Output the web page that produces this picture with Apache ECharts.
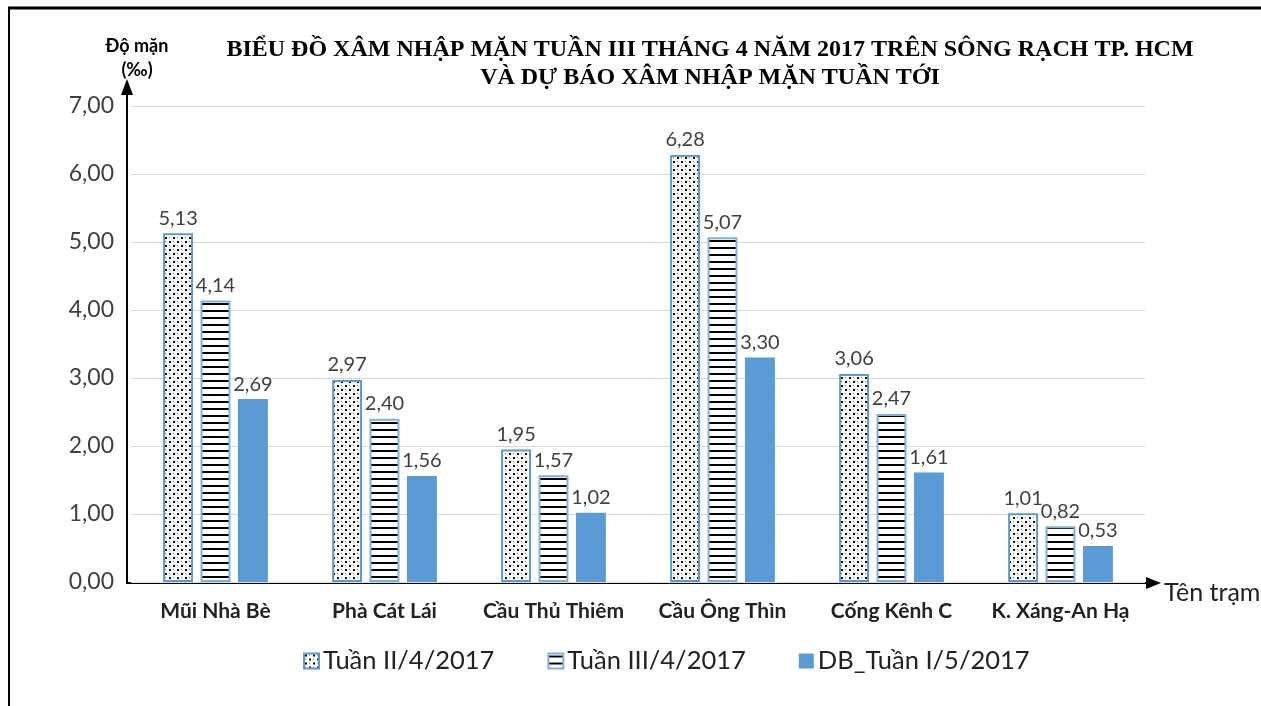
<!DOCTYPE html>
<html><head><meta charset="utf-8">
<script src="https://cdn.jsdelivr.net/npm/echarts@6/dist/echarts.min.js"></script>
<style>html,body{margin:0;padding:0;background:#fff}#c{width:1261px;height:706px}</style>
</head><body><div id="c"></div>
<script>
const categories = ['Mũi Nhà Bè','Phà Cát Lái','Cầu Thủ Thiêm','Cầu Ông Thìn','Cống Kênh C','K. Xáng-An Hạ'];
const seriesNames = ['Tuần II/4/2017','Tuần III/4/2017','DB_Tuần I/5/2017'];
const week2 = [5.13, 2.97, 1.95, 6.28, 3.06, 1.01];
const week3 = [4.14, 2.40, 1.57, 5.07, 2.47, 0.82];
const forecast = [2.69, 1.56, 1.02, 3.30, 1.61, 0.53];
const yTicks = [0,1,2,3,4,5,6,7];

function dotPattern(){
  const c=document.createElement('canvas');c.width=8;c.height=8;
  const g=c.getContext('2d');g.fillStyle='#fff';g.fillRect(0,0,8,8);
  g.fillStyle='#000';
  g.fillRect(1,1,2,2);g.fillRect(5,5,2,2);
  g.fillStyle='#666';g.fillRect(5,1,1,1);g.fillRect(1,5,1,1);
  return c;
}
function linePattern(){
  const c=document.createElement('canvas');c.width=4;c.height=7;
  const g=c.getContext('2d');g.fillStyle='#fff';g.fillRect(0,0,4,7);
  g.fillStyle='#000';g.fillRect(0,2,4,2);
  return c;
}
const FONT='Lato';
const fmt=v=>v.toFixed(2).replace('.',',');
const chart=echarts.init(document.getElementById('c'));
const lbl={show:true,position:'top',distance:5,fontFamily:FONT,fontSize:20,color:'#404040',formatter:p=>fmt(p.value)};
chart.setOption({
  animation:false,
  title:{text:'BIỂU ĐỒ XÂM NHẬP MẶN TUẦN III THÁNG 4 NĂM 2017 TRÊN SÔNG RẠCH TP. HCM\nVÀ DỰ BÁO XÂM NHẬP MẶN TUẦN TỚI',
    left:705,top:31,textAlign:'center',
    textStyle:{fontFamily:'Liberation Serif',fontWeight:'bold',fontSize:24,lineHeight:28,color:'#000'}},
  legend:{bottom:27,left:298,itemGap:53,itemWidth:15,itemHeight:15,icon:'rect',
    textStyle:{fontFamily:FONT,fontSize:25.5,color:'#222',padding:[0,0,0,-1]},data:seriesNames},
  grid:{left:131,right:116,top:106,bottom:124},
  xAxis:{type:'category',data:categories,axisLine:{show:false},axisTick:{show:false},
    axisLabel:{interval:0,margin:19,fontFamily:FONT,fontWeight:'bold',fontSize:21,color:'#222'}},
  yAxis:{type:'value',min:0,max:7,interval:1,axisLine:{show:false},axisTick:{show:false},
    splitLine:{lineStyle:{color:'#D9D9D9',width:1}},
    axisLabel:{margin:17,fontFamily:FONT,fontSize:23,color:'#404040',formatter:v=>fmt(v)}},
  series:[
    {name:seriesNames[0],type:'bar',data:week2,barGap:'25%',barCategoryGap:'38%',
      itemStyle:{color:{image:dotPattern(),repeat:'repeat'},borderColor:'#5B9BD5',borderWidth:2},label:lbl},
    {name:seriesNames[1],type:'bar',data:week3,
      itemStyle:{color:{image:linePattern(),repeat:'repeat'},borderColor:'#7FB0E0',borderWidth:2},label:lbl},
    {name:seriesNames[2],type:'bar',data:forecast,itemStyle:{color:'#5B9BD5'},label:lbl}
  ],
  graphic:[
    {type:'line',shape:{x1:8,y1:8,x2:1261,y2:8},style:{stroke:'#000',lineWidth:3}},
    {type:'line',shape:{x1:9,y1:8,x2:9,y2:706},style:{stroke:'#000',lineWidth:2}},
    {type:'line',shape:{x1:127,y1:583,x2:127,y2:92},style:{stroke:'#000',lineWidth:2}},
    {type:'polygon',shape:{points:[[121,95],[133,95],[127,79]]},style:{fill:'#000'}},
    {type:'line',shape:{x1:126,y1:583,x2:1148,y2:583},style:{stroke:'#000',lineWidth:2}},
    {type:'polygon',shape:{points:[[1146,577],[1146,589],[1161,583]]},style:{fill:'#000'}},
    {type:'text',x:137,y:46,style:{text:'Độ mặn',fontFamily:FONT,fontWeight:'bold',fontSize:18,fill:'#000',align:'center',verticalAlign:'middle'}},
    {type:'text',x:137,y:70,style:{text:'(‰)',fontFamily:FONT,fontWeight:'bold',fontSize:18,fill:'#000',align:'center',verticalAlign:'middle'}},
    {type:'text',x:1164,y:593,style:{text:'Tên trạm',fontFamily:FONT,fontSize:25,fill:'#222',align:'left',verticalAlign:'middle'}}
  ]
});
</script></body></html>
